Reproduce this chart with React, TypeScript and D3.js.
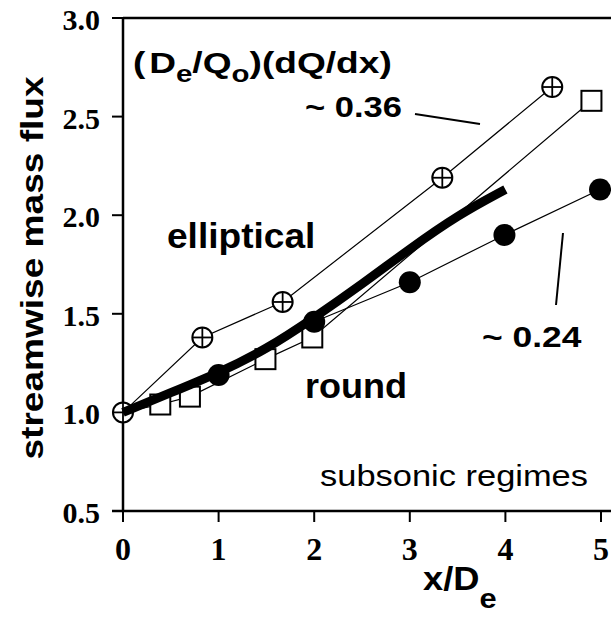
import React from "react";
import * as d3 from "d3";

const xTicks = [0, 1, 2, 3, 4, 5];
const yTicks = [0.5, 1.0, 1.5, 2.0, 2.5, 3.0];

// elliptical (crossed circles)
const ellX = [0, 0.83, 1.67, 3.34, 4.49];
const ellY = [1.0, 1.38, 1.56, 2.19, 2.65];
// open squares
const sqX = [0, 0.39, 0.7, 1.49, 1.98, 4.9];
const sqY = [1.0, 1.04, 1.08, 1.27, 1.38, 2.58];
// round (filled circles)
const rdX = [0, 1.0, 2.0, 3.0, 3.99, 4.99];
const rdY = [1.0, 1.19, 1.46, 1.66, 1.9, 2.13];
// thick fit curve
const fitX = [0, 0.5, 1.0, 1.5, 2.0, 2.5, 3.0, 3.5, 4.0];
const fitY = [1.0, 1.1, 1.2, 1.32, 1.48, 1.65, 1.83, 2.0, 2.13];

const W = 611;
const H = 617;

export default function App() {
  const x = d3.scaleLinear().domain([0, 5]).range([123, 601]);
  const y = d3.scaleLinear().domain([0.5, 3.0]).range([511, 18]);
  const pts = (xs: number[], ys: number[]) => xs.map((v, i) => [v, ys[i]] as [number, number]);
  const line = d3.line<[number, number]>().x((d) => x(d[0])).y((d) => y(d[1]));
  const curve = d3
    .line<[number, number]>()
    .x((d) => x(d[0]))
    .y((d) => y(d[1]))
    .curve(d3.curveBasis);

  const sans = "'Liberation Sans', Arial, sans-serif";
  const serif = "'Liberation Serif', 'Times New Roman', serif";

  const ell = pts(ellX, ellY);
  const sq = pts(sqX, sqY);
  const rd = pts(rdX, rdY);
  const fit = pts(fitX, fitY);

  return (
    <svg
      width={W}
      height={H}
      style={{ position: "absolute", left: 0, top: 0, background: "#fff" }}
    >
      <rect width={W} height={H} fill="#fff" />
      {/* thin connecting lines */}
      <path d={line(ell) || ""} fill="none" stroke="#000" strokeWidth={1.2} />
      <path d={line(sq) || ""} fill="none" stroke="#000" strokeWidth={1.2} />
      <path d={line(rd) || ""} fill="none" stroke="#000" strokeWidth={1.2} />
      {/* axes */}
      <line x1={123} y1={18} x2={123} y2={511} stroke="#000" strokeWidth={2.5} />
      <line x1={123} y1={18} x2={611} y2={18} stroke="#000" strokeWidth={2.5} />
      <line x1={112} y1={511} x2={611} y2={511} stroke="#000" strokeWidth={2.5} />
      {yTicks.map((t) => (
        <g key={"y" + t}>
          <line x1={112} x2={123} y1={y(t)} y2={y(t)} stroke="#000" strokeWidth={2} />
          <text
            x={100}
            y={y(t) + 12}
            textAnchor="end"
            fontFamily={serif}
            fontWeight="bold"
            fontSize={30}
          >
            {t.toFixed(1)}
          </text>
        </g>
      ))}
      {xTicks.map((t) => (
        <g key={"x" + t}>
          <line x1={x(t)} x2={x(t)} y1={511} y2={522} stroke="#000" strokeWidth={2} />
          <text
            x={x(t)}
            y={560}
            textAnchor="middle"
            fontFamily={serif}
            fontWeight="bold"
            fontSize={32}
          >
            {t}
          </text>
        </g>
      ))}
      {/* markers: squares */}
      {sq.slice(1).map((d, i) => (
        <rect
          key={"s" + i}
          x={x(d[0]) - 10}
          y={y(d[1]) - 10}
          width={20}
          height={20}
          fill="#fff"
          stroke="#000"
          strokeWidth={2}
        />
      ))}
      {/* filled circles */}
      {rd.slice(1).map((d, i) => (
        <circle key={"r" + i} cx={x(d[0])} cy={y(d[1])} r={11} fill="#000" />
      ))}
      {/* crossed circles */}
      {ell.map((d, i) => (
        <g key={"e" + i}>
          <circle cx={x(d[0])} cy={y(d[1])} r={10} fill="#fff" stroke="#000" strokeWidth={2} />
          <line x1={x(d[0]) - 10} x2={x(d[0]) + 10} y1={y(d[1])} y2={y(d[1])} stroke="#000" strokeWidth={1.8} />
          <line x1={x(d[0])} x2={x(d[0])} y1={y(d[1]) - 10} y2={y(d[1]) + 10} stroke="#000" strokeWidth={1.8} />
        </g>
      ))}
      {/* thick curve */}
      <path
        d={curve(fit) || ""}
        fill="none"
        stroke="#000"
        strokeWidth={9}
        strokeLinecap="butt"
      />
      {/* annotations */}
      <text
        transform="translate(133,73) scale(1.28,1)"
        fontFamily={sans}
        fontWeight="bold"
        fontSize={29}
      >
        (<tspan dx={3}>D</tspan>
        <tspan fontSize={23} dy={9}>e</tspan>
        <tspan dy={-9}>/Q</tspan>
        <tspan fontSize={23} dy={9}>o</tspan>
        <tspan dy={-9}>)(dQ/dx)</tspan>
      </text>
      <text
        transform="translate(305,117) scale(1.15,1)"
        fontFamily={sans}
        fontWeight="bold"
        fontSize={30}
      >
        ~ 0.36
      </text>
      <line x1={415} y1={114} x2={480} y2={124} stroke="#000" strokeWidth={2} />
      <text
        transform="translate(482,347) scale(1.18,1)"
        fontFamily={sans}
        fontWeight="bold"
        fontSize={30}
      >
        ~ 0.24
      </text>
      <line x1={563} y1={233} x2={556} y2={305} stroke="#000" strokeWidth={2} />
      <text
        transform="translate(167,248) scale(1.06,1)"
        fontFamily={sans}
        fontWeight="bold"
        fontSize={35}
      >
        elliptical
      </text>
      <text
        transform="translate(305,398) scale(1.03,1)"
        fontFamily={sans}
        fontWeight="bold"
        fontSize={35}
      >
        round
      </text>
      <text
        x={320}
        y={486}
        fontFamily={sans}
        fontSize={29}
        textLength={268}
        lengthAdjust="spacingAndGlyphs"
      >
        subsonic regimes
      </text>
      {/* axis titles */}
      <text
        transform="translate(43,268) rotate(-90)"
        textAnchor="middle"
        fontFamily={sans}
        fontWeight="bold"
        fontSize={32}
        textLength={383}
        lengthAdjust="spacingAndGlyphs"
      >
        streamwise mass flux
      </text>
      <text
        transform="translate(423,590) scale(1.1,1)"
        fontFamily={sans}
        fontWeight="bold"
        fontSize={33}
      >
        x/D<tspan fontSize={28} dy={18}>e</tspan>
      </text>
    </svg>
  );
}
